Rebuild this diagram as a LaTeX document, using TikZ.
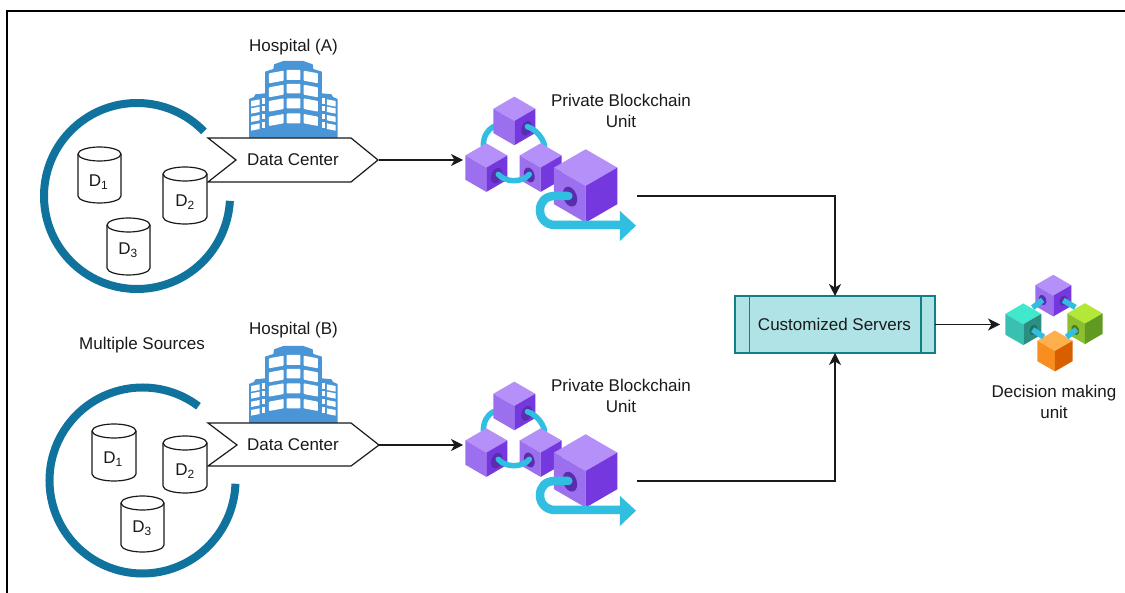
\documentclass[tikz,border=0pt]{standalone}
\usepackage{fontspec}
\setmainfont{Liberation Sans}
\usetikzlibrary{arrows.meta}
\definecolor{ringc}{HTML}{10739E}
\definecolor{bldc}{HTML}{4A95D6}
\definecolor{pTop}{HTML}{B490F8}
\definecolor{pLeft}{HTML}{9B6FEE}
\definecolor{pRight}{HTML}{7438DE}
\definecolor{pHole}{HTML}{5A2DAE}
\definecolor{linkc}{HTML}{30BFE0}
\definecolor{tTop}{HTML}{40E8CC}
\definecolor{tLeft}{HTML}{38C0B0}
\definecolor{tRight}{HTML}{2A8F80}
\definecolor{tHole}{HTML}{1F6F64}
\definecolor{gTop}{HTML}{B4E838}
\definecolor{gLeft}{HTML}{8CC030}
\definecolor{gRight}{HTML}{609A20}
\definecolor{gHole}{HTML}{4A7A18}
\definecolor{oTop}{HTML}{FFB04C}
\definecolor{oLeft}{HTML}{F88E20}
\definecolor{oRight}{HTML}{D85F00}
\definecolor{srvFill}{HTML}{B0E3E6}
\definecolor{srvLine}{HTML}{0E8088}
\definecolor{inkc}{HTML}{1A1A1A}
\tikzset{
  lbl/.style={font=\fontsize{17}{21}\selectfont, text=inkc, align=center, inner sep=0pt},
  ringarc/.style={draw=ringc, line width=8pt, line cap=butt},
  cylbox/.style={draw=inkc, fill=white, line width=1.2pt},
  signalbox/.style={draw=inkc, fill=white, line width=1.2pt, line join=miter},
  flow/.style={draw=inkc, line width=1.2pt, -{Stealth[length=12pt,width=12pt,inset=3.5pt]}},
  link/.style={draw=linkc, line width=5.5pt, line cap=round},
  bigflow/.style={draw=linkc, line width=8.5pt, line cap=round},
  srvbox/.style={draw=srvLine, fill=srvFill, line width=1.2pt},
}
% cube: centre vertex x,y ; half width ; three face colours
\newcommand{\cubeat}[6]{%
  \pgfmathsetmacro{\rh}{.58*#3}\pgfmathsetmacro{\sd}{1.155*#3}%
  \fill[#4] (#1,#2) -- ({#1-#3},{#2-\rh}) -- (#1,{#2-2*\rh}) -- ({#1+#3},{#2-\rh}) -- cycle;
  \fill[#5] (#1,#2) -- ({#1-#3},{#2-\rh}) -- ({#1-#3},{#2-\rh+\sd}) -- (#1,{#2+\sd}) -- cycle;
  \fill[#6] (#1,#2) -- ({#1+#3},{#2-\rh}) -- ({#1+#3},{#2-\rh+\sd}) -- (#1,{#2+\sd}) -- cycle;
}
\newcommand{\holeat}[6]{% x y rx ry angle colour
  \fill[#6, rotate around={#5:(#1,#2)}] (#1,#2) ellipse [x radius=#3, y radius=#4];
}
\newcommand{\cylinder}[5]{%
  \pgfmathsetmacro{\xm}{(#1+#2)/2}\pgfmathsetmacro{\hw}{(#2-#1)/2}%
  \path[cylbox] (#1,#3+7) -- (#1,#4-7) arc[start angle=180,end angle=360,x radius=\hw,y radius=-7] -- (#2,#3+7) arc[start angle=0,end angle=180,x radius=\hw,y radius=-7] -- cycle;
  \draw[cylbox,fill=none] (#1,#3+7) arc[start angle=180,end angle=360,x radius=\hw,y radius=-7];
}
\newcommand{\building}[1]{%
\begin{scope}[shift={(240,55+#1)},x=0.3333pt,y=-0.3333pt]
  \fill[bldc] (27,250) -- (27,132) -- (42,126) -- (46,118) -- (75,115) -- (75,50) -- (100,42) -- (102,28) -- (130,18) -- (190,18) -- (218,28) -- (220,42) -- (246,50) -- (246,115) -- (275,118) -- (279,126) -- (293,132) -- (293,250) -- cycle;
  \foreach \a/\b in {45/75,87/115,130/160,175/205}{
    \fill[white,rounded corners=0.8pt] (140,\a) rectangle (181,\b);}
  \foreach \a/\b in {55/85,97/127,138/170,185/213}{
    \fill[white,rounded corners=0.8pt] (87,\a) -- (131,\a-8) -- (131,\b-8) -- (87,\b) -- cycle;
    \fill[white,rounded corners=0.8pt] (234,\a) -- (191,\a-8) -- (191,\b-8) -- (234,\b) -- cycle;}
  \foreach \a/\b in {138/155,160/176,185/201,210/227}{
    \fill[white] (33,\a) -- (59,\a-5) -- (59,\b-5) -- (33,\b) -- cycle;
    \fill[white] (287,\a) -- (261,\a-5) -- (261,\b-5) -- (287,\b) -- cycle;
    \fill[white] (65,\a-8) rectangle (75,\b-8);
    \fill[white] (246,\a-8) rectangle (255,\b-8);}
\end{scope}}
\newcommand{\blockchain}[1]{%
\begin{scope}[shift={(450,85+#1)},x=0.3333pt,y=-0.3333pt]
  \draw[link] (130,125) .. controls (112,135) and (100,155) .. (100,182);
  \cubeat{193}{108}{63}{pTop}{pLeft}{pRight}
  \holeat{230}{130}{15}{23}{-20}{pHole}
  \draw[link] (232,125) .. controls (255,132) and (277,155) .. (284,182);
  \cubeat{109}{248}{63}{pTop}{pLeft}{pRight}
  \cubeat{272}{248}{63}{pTop}{pLeft}{pRight}
  \holeat{140}{272}{16}{24}{-20}{pHole}
  \holeat{238}{270}{15}{23}{20}{pHole}
  \draw[link] (145,268) .. controls (165,292) and (215,295) .. (238,268);
  \cubeat{407}{303}{95}{pTop}{pLeft}{pRight}
  \holeat{360}{335}{20}{31}{20}{pHole}
  \draw[bigflow] (355,333) -- (315,333) .. controls (285,333) and (270,352) .. (270,376) .. controls (270,402) and (290,420) .. (315,420) -- (515,420);
  \fill[linkc] (510,378) -- (558,422) -- (510,468) -- cycle;
\end{scope}}
\begin{document}
\begin{tikzpicture}[x=1pt,y=-1pt]
\useasboundingbox (0,0) rectangle (1125,593);
\fill[white] (0,0) rectangle (1125,593);
\draw[black,line width=2pt] (6.5,593) -- (6.5,11) -- (1125,11);

% ---- source rings and cylinders
\draw[ringarc] (137,196) ++(-44:93) arc[start angle=-44,end angle=-357,radius=93];
\draw[ringarc] (142.5,480.5) ++(-53:93) arc[start angle=-53,end angle=-358,radius=93];

\cylinder{78}{121}{147}{203}{}
\cylinder{107}{150}{218}{275}{}
\cylinder{92}{136}{424}{481}{}
\cylinder{121}{164}{496}{552}{}

% ---- buildings
\building{0}
\building{285}

% ---- data centres
\path[signalbox] (208,138) -- (351,138) -- (378,160) -- (351,182) -- (208,182) -- (236,160) -- cycle;
\path[signalbox] (208,423) -- (351,423) -- (379,445) -- (351,466) -- (208,466) -- (237,445) -- cycle;
\coordinate (tipA) at (379,160);
\coordinate (tipB) at (379,445);
\node[lbl] (dcA) at (293,160) {Data Center};
\node[lbl] (dcB) at (293,445) {Data Center};

\cylinder{163}{207}{167}{224}{}
\cylinder{163}{207}{436}{493}{}

\node[lbl] (d1a) at (98.5,182) {D\textsubscript{1}};
\node[lbl] (d2a) at (185,202) {D\textsubscript{2}};
\node[lbl] (d3a) at (128,250) {D\textsubscript{3}};
\node[lbl] (d1b) at (113,459) {D\textsubscript{1}};
\node[lbl] (d2b) at (185,471) {D\textsubscript{2}};
\node[lbl] (d3b) at (142,528) {D\textsubscript{3}};

% ---- blockchains
\blockchain{0}
\blockchain{285}
\coordinate (chainAin) at (463,160);
\coordinate (chainBin) at (463,445);
\coordinate (chainAout) at (637,196);
\coordinate (chainBout) at (637,481);

% ---- labels
\node[lbl] (hospA) at (293.5,47) {Hospital (A)};
\node[lbl] (hospB) at (293.5,330.5) {Hospital (B)};
\node[lbl] (multi) at (142,345) {Multiple Sources};
\node[lbl] (pbuA) at (621,110.5) {Private Blockchain\\Unit};
\node[lbl] (pbuB) at (621,395.5) {Private Blockchain\\Unit};

% ---- servers
\node[srvbox, minimum width=200pt, minimum height=57pt, inner sep=0pt, outer sep=0pt] (srv) at (835,324.5) {};
\draw[srvLine,line width=1.2pt] (749.5,296) -- (749.5,353);
\draw[srvLine,line width=1.2pt] (921,296) -- (921,353);
\node[lbl] (srvtext) at (834.5,324) {Customized Servers};

% ---- decision cubes
\begin{scope}[shift={(720,265)},x=0.3333pt,y=-0.3333pt]
  \cubeat{1000}{92}{54}{pTop}{pLeft}{pRight}
  \holeat{968}{105}{11}{16}{20}{pHole}
  \holeat{1030}{107}{11}{16}{-20}{pHole}
  \cubeat{1095}{176}{53}{gTop}{gLeft}{gRight}
  \holeat{1066}{195}{11}{16}{20}{gHole}
  \cubeat{910}{178}{54}{tTop}{tLeft}{tRight}
  \holeat{940}{195}{11}{16}{-20}{tHole}
  \cubeat{1005}{258}{53}{oTop}{oLeft}{oRight}
  \draw[link,line cap=butt] (968,105) -- (938,128);
  \draw[link,line cap=butt] (1030,106) -- (1066,127);
  \draw[link,line cap=butt] (938,194) -- (971,216);
  \draw[link,line cap=butt] (1070,193) -- (1040,216);
\end{scope}
\coordinate (decisionIn) at (1000,324.5);
\node[lbl] (dec) at (1054,401.5) {Decision making\\unit};

% ---- connectors
\draw[flow] (tipA) -- (chainAin);
\draw[flow] (tipB) -- (chainBin);
\draw[flow] (chainAout) -| (srv.north);
\draw[flow] (chainBout) -| (srv.south);
\draw[flow] (srv.east) -- (decisionIn);
\end{tikzpicture}
\end{document}
